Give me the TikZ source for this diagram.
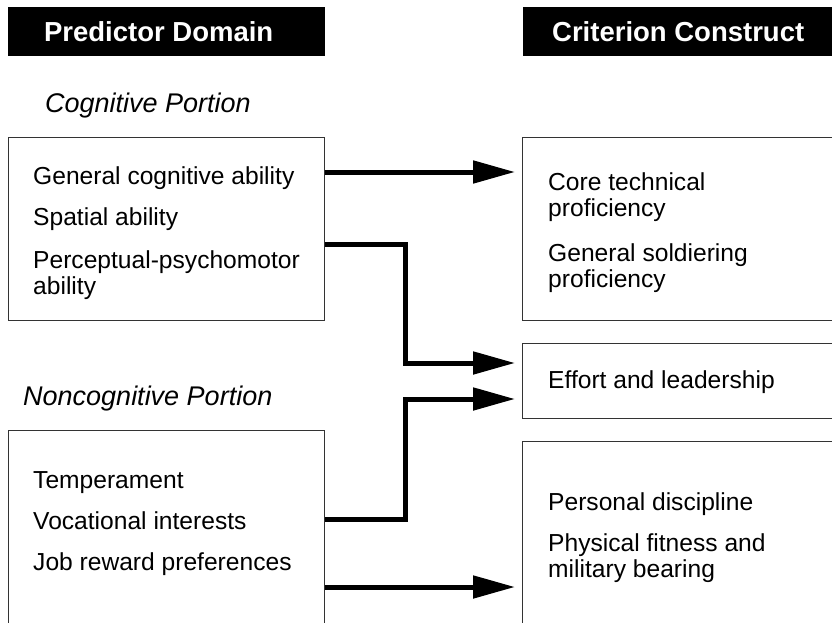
\documentclass[tikz,border=0pt]{standalone}
\usepackage{fontspec}
\setmainfont{Liberation Sans}
\usetikzlibrary{arrows.meta}
\tikzstyle{box} = [draw=black!80, line width=1.3pt, anchor=north west, inner sep=0pt]
\tikzstyle{head} = [fill=black, anchor=north west, inner sep=0pt, minimum height=49pt]
\tikzstyle{headtext} = [text=white, inner sep=0pt, font=\fontsize{27.5}{30}\selectfont\bfseries]
\tikzstyle{portion} = [anchor=base west, inner sep=0pt, font=\fontsize{27}{30}\selectfont\itshape]
\tikzstyle{item} = [anchor=base west, inner sep=0pt, align=left, font=\fontsize{24.6}{26}\selectfont]
\tikzstyle{flow} = [line width=5pt, -{Triangle[length=42pt,width=22pt]}, shorten >=7pt]

\begin{document}
\begin{tikzpicture}[x=1pt,y=-1pt]
\useasboundingbox (0,0) rectangle (832,623);

% headers
\node[head, minimum width=317pt] (predhead) at (8,7) {};
\node[headtext, xshift=-8pt] at (predhead.center) {Predictor Domain};
\node[head, minimum width=310pt] (crithead) at (523,7) {};
\node[headtext] at (crithead.center) {Criterion Construct};

% predictor side
\node[portion] (cogport) at (45,113) {Cognitive Portion};
\node[box, minimum width=316pt, minimum height=183pt] (cogbox) at (8,137) {};
\node[item] (gca) at (33,184) {General cognitive ability};
\node[item] (spa) at (33,225) {Spatial ability};
\node[item] (ppm) at (33,294) {Perceptual-psychomotor\\ability};

\node[portion] (noncogport) at (23,405) {Noncognitive Portion};
\node[box, minimum width=316pt, minimum height=200pt] (noncogbox) at (8,430) {};
\node[item] (tmp) at (33,488) {Temperament};
\node[item] (voc) at (33,529) {Vocational interests};
\node[item] (jrp) at (33,570) {Job reward preferences};

% criterion side
\node[box, minimum width=320pt, minimum height=183pt] (techbox) at (522,137) {};
\node[item] (ctp) at (548,216) {Core technical\\proficiency};
\node[item] (gsp) at (548,287) {General soldiering\\proficiency};

\node[box, minimum width=320pt, minimum height=75pt] (effbox) at (522,343) {};
\node[item] (eal) at (548,388) {Effort and leadership};

\node[box, minimum width=320pt, minimum height=190pt] (discbox) at (522,441) {};
\node[item] (pd) at (548,510) {Personal discipline};
\node[item] (pfm) at (548,577) {Physical fitness and\\military bearing};

% links
\draw[flow] (cogbox.east |- 0,172) -- (techbox.west |- 0,172);
\draw[flow] (cogbox.east |- 0,244) -| (405,363) -- (effbox.west |- 0,363);
\draw[flow] (noncogbox.east |- 0,519) -| (405,399) -- (effbox.west |- 0,399);
\draw[flow] (noncogbox.east |- 0,587) -- (discbox.west |- 0,587);

\end{tikzpicture}
\end{document}
